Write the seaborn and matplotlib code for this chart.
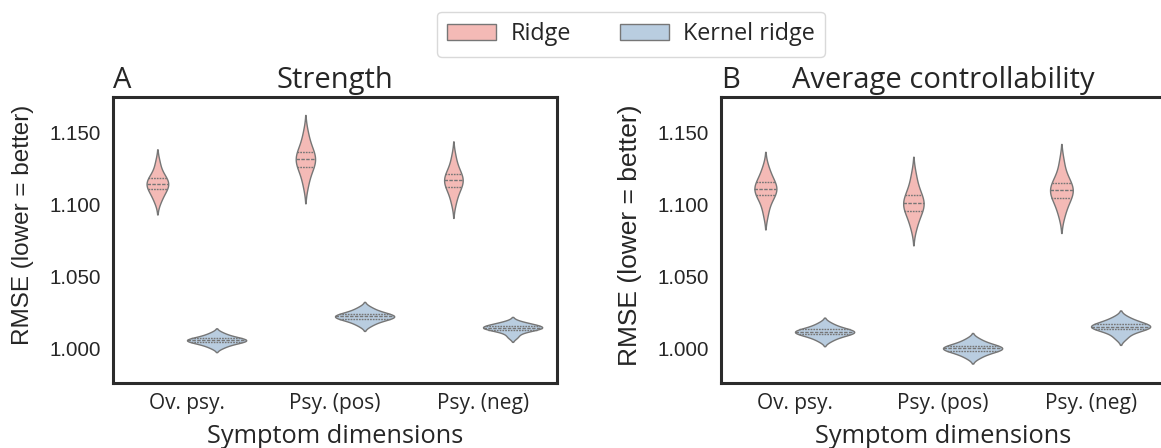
import numpy as np
import pandas as pd
import seaborn as sns
import matplotlib.pyplot as plt
from matplotlib.patches import Patch
from matplotlib.ticker import FormatStrFormatter

dimensions = ["Ov. psy.", "Psy. (pos)", "Psy. (neg)"]
models = ["Ridge", "Kernel ridge"]
panel_titles = ["Strength", "Average controllability"]
panel_letters = ["A", "B"]
y_ticks = [1.000, 1.050, 1.100, 1.150]

# Strength panel samples (RMSE)
strength_ridge_ov = [1.1022, 1.1062, 1.1090, 1.1111, 1.1127, 1.1139, 1.1151, 1.1163, 1.1179, 1.1200, 1.1230, 1.1295]
strength_ridge_pos = [1.1132, 1.1201, 1.1243, 1.1271, 1.1292, 1.1309, 1.1325, 1.1342, 1.1363, 1.1391, 1.1433, 1.1502]
strength_ridge_neg = [1.1013, 1.1072, 1.1107, 1.1131, 1.1149, 1.1163, 1.1177, 1.1191, 1.1209, 1.1233, 1.1268, 1.1335]
strength_kernel_ov = [1.0005, 1.0024, 1.0035, 1.0043, 1.0048, 1.0053, 1.0057, 1.0062, 1.0067, 1.0075, 1.0086, 1.0105]
strength_kernel_pos = [1.0160, 1.0183, 1.0197, 1.0206, 1.0213, 1.0218, 1.0224, 1.0229, 1.0236, 1.0245, 1.0259, 1.0282]
strength_kernel_neg = [1.0078, 1.0108, 1.0122, 1.0131, 1.0137, 1.0141, 1.0145, 1.0149, 1.0155, 1.0162, 1.0170, 1.0183]

# Average controllability panel samples (RMSE)
avgctrl_ridge_ov = [1.0935, 1.1006, 1.1046, 1.1070, 1.1089, 1.1103, 1.1117, 1.1131, 1.1150, 1.1174, 1.1209, 1.1260]
avgctrl_ridge_pos = [1.0840, 1.0900, 1.0940, 1.0965, 1.0987, 1.1002, 1.1018, 1.1035, 1.1060, 1.1090, 1.1135, 1.1210]
avgctrl_ridge_neg = [1.0925, 1.0987, 1.1028, 1.1055, 1.1076, 1.1092, 1.1108, 1.1124, 1.1145, 1.1172, 1.1213, 1.1300]
avgctrl_kernel_ov = [1.0053, 1.0076, 1.0089, 1.0098, 1.0105, 1.0110, 1.0116, 1.0121, 1.0128, 1.0137, 1.0150, 1.0173]
avgctrl_kernel_pos = [0.9935, 0.9959, 0.9973, 0.9983, 0.9990, 0.9996, 1.0002, 1.0008, 1.0015, 1.0025, 1.0039, 1.0063]
avgctrl_kernel_neg = [1.0070, 1.0103, 1.0123, 1.0133, 1.0141, 1.0147, 1.0153, 1.0159, 1.0167, 1.0177, 1.0192, 1.0215]

panel_data = [
    {"Ridge": [strength_ridge_ov, strength_ridge_pos, strength_ridge_neg],
     "Kernel ridge": [strength_kernel_ov, strength_kernel_pos, strength_kernel_neg]},
    {"Ridge": [avgctrl_ridge_ov, avgctrl_ridge_pos, avgctrl_ridge_neg],
     "Kernel ridge": [avgctrl_kernel_ov, avgctrl_kernel_pos, avgctrl_kernel_neg]},
]

colors = {"Ridge": "#f4bab6", "Kernel ridge": "#b9cde0"}
edge = "#767676"

sns.set_style("white")
plt.rcParams["font.family"] = ["Open Sans", "DejaVu Sans"]

fig = plt.figure(figsize=(11.61, 4.48), dpi=100)
W, H = 1161, 448
axes = [fig.add_axes([113 / W, 65 / H, 444 / W, 286 / H]),
        fig.add_axes([721 / W, 65 / H, 444 / W, 286 / H])]
ylabel_sizes = [17.5, 19]
ylabel_ypos = [0.554, 0.517]

for i, (ax, pdata, title, letter) in enumerate(zip(axes, panel_data, panel_titles, panel_letters)):
    rows = []
    for m in models:
        for d, vals in zip(dimensions, pdata[m]):
            for v in vals:
                rows.append({"dim": d, "model": m, "rmse": v})
    df = pd.DataFrame(rows)
    # density scaled within each symptom dimension (both models share the scale)
    for d in dimensions:
        sns.violinplot(data=df[df["dim"] == d], x="dim", y="rmse", hue="model",
                       order=dimensions, hue_order=models, palette=colors,
                       saturation=1, inner="quart", linewidth=1, linecolor=edge,
                       common_norm=True, ax=ax, legend=False)
    ax.set_xlim(-0.5, 2.5)
    ax.set_ylim(0.9757, 1.175)
    ax.set_yticks(y_ticks)
    ax.yaxis.set_major_formatter(FormatStrFormatter("%.3f"))
    ax.tick_params(axis="both", length=0)
    ax.tick_params(axis="y", pad=8.5)
    ax.tick_params(axis="x", pad=7.5)
    for lab in ax.get_yticklabels():
        lab.set_fontfamily("Liberation Sans")
        lab.set_fontsize(14.8)
    for lab in ax.get_xticklabels():
        lab.set_fontsize(15)
    ax.set_xlabel("Symptom dimensions", fontsize=18.3, labelpad=7)
    ax.set_ylabel("RMSE (lower = better)", fontsize=ylabel_sizes[i], fontfamily="Liberation Sans")
    ax.yaxis.set_label_coords(-0.177, ylabel_ypos[i])
    ax.set_title(title, fontsize=21, pad=6.5)
    ax.set_title(letter, loc="left", fontsize=21, pad=6.5)
    for s in ax.spines.values():
        s.set_linewidth(2.2)
        s.set_color("#2b2b2b")

handles = [Patch(facecolor=colors[m], edgecolor=edge, linewidth=1, label=m) for m in models]
fig.legend(handles=handles, loc="upper center", bbox_to_anchor=(631 / W, 1.0), ncol=2,
           fontsize=16.8, frameon=True, fancybox=True, edgecolor="#d0d0d0",
           handlelength=2.1, handleheight=0.66, handletextpad=0.6,
           columnspacing=2.1, borderpad=0.45)

fig.savefig("out.png", dpi=100)
